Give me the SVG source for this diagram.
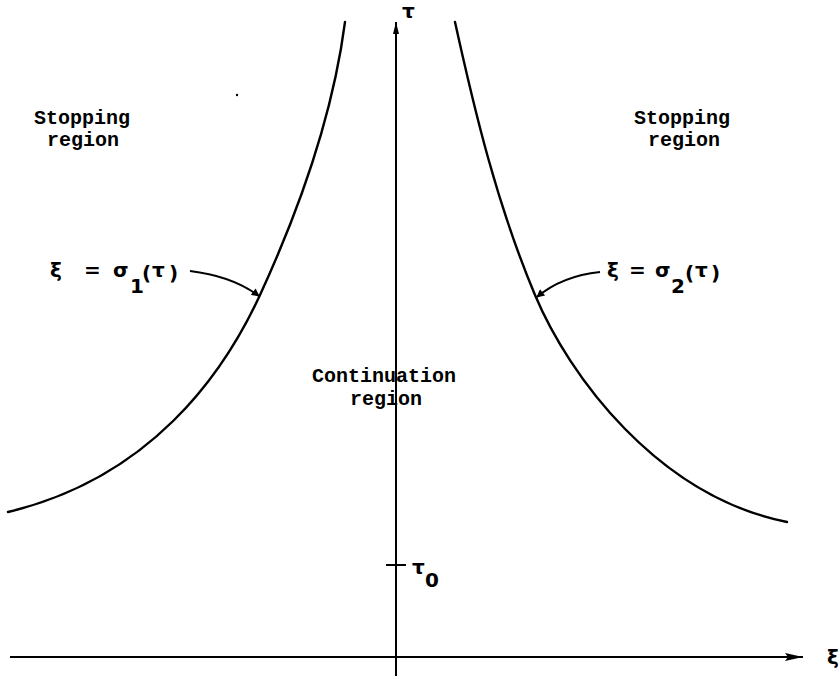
<svg xmlns="http://www.w3.org/2000/svg" width="840" height="677" viewBox="0 0 840 677">
<style>
.ax{stroke:#000;stroke-width:2;fill:none}
.cv{stroke:#000;stroke-width:2.4;fill:none;stroke-linecap:round}
.lead{stroke:#000;stroke-width:2;fill:none}
.tw{font-family:"Liberation Mono","DejaVu Sans Mono",monospace;font-size:20px;font-weight:bold;fill:#000}
.eq{font-family:"DejaVu Sans","Liberation Sans",sans-serif;font-size:20px;font-weight:bold;fill:#000}
</style>
<defs>
<marker id="ah" viewBox="0 0 10 10" refX="9" refY="5" markerWidth="10" markerHeight="8" markerUnits="userSpaceOnUse" orient="auto">
<path d="M0,0 L10,5 L0,10 Z" fill="#000"/>
</marker>
<marker id="axh" viewBox="0 0 18 8" refX="18" refY="4" markerWidth="18" markerHeight="8" markerUnits="userSpaceOnUse" orient="auto">
<path d="M0,0 L18,4 L0,8 L3,4 Z" fill="#000"/>
</marker>
<marker id="ah2" viewBox="0 0 12 6" refX="12" refY="3" markerWidth="12" markerHeight="6" markerUnits="userSpaceOnUse" orient="auto">
<path d="M0,0 L12,3 L0,6 Z" fill="#000"/>
</marker>
</defs>
<rect width="840" height="677" fill="#fff"/>
<g id="axes">
<line class="ax" x1="10" y1="657" x2="803" y2="657" marker-end="url(#axh)"/>
<line class="ax" x1="396" y1="676" x2="396" y2="22" marker-end="url(#ah2)"/>
<line class="ax" x1="386" y1="565" x2="406" y2="565"/>
</g>
<g id="curves">
<path id="sigma1" class="cv" d="M345,22 C333.3,112 301.4,205 260,295 C223,375 150,478 8,512"/>
<path id="sigma2" class="cv" d="M455,22 C474.8,112 497.2,205 535,295 C568.6,375 657,496 787,522"/>
</g>
<g id="connectors">
<path class="lead" d="M190,271 Q232,276 259,296" marker-end="url(#ah)"/>
<path class="lead" d="M600,272 Q562,276 537,297" marker-end="url(#ah)"/>
</g>
<g id="stop-left">
<text class="tw" x="34" y="124">Stopping</text>
<text class="tw" x="47" y="146">region</text>
</g>
<g id="stop-right">
<text class="tw" x="634" y="124">Stopping</text>
<text class="tw" x="648" y="146">region</text>
</g>
<g id="continuation">
<text class="tw" x="312" y="382">Continuation</text>
<text class="tw" x="350" y="405">region</text>
</g>
<g id="label-sigma1">
<text class="eq" x="50" y="277">ξ</text>
<text class="eq" x="84" y="277">=</text>
<text class="eq" x="113" y="277">σ</text>
<text class="eq" x="130" y="293" font-size="17">1</text>
<text class="eq" x="142" y="280" font-size="24">(</text>
<text class="eq" x="152" y="277">τ</text>
<text class="eq" x="169" y="280" font-size="24">)</text>
</g>
<g id="label-sigma2">
<text class="eq" x="607" y="277">ξ</text>
<text class="eq" x="629" y="277">=</text>
<text class="eq" x="655" y="277">σ</text>
<text class="eq" x="671" y="293" font-size="17">2</text>
<text class="eq" x="685" y="280" font-size="24">(</text>
<text class="eq" x="695" y="277">τ</text>
<text class="eq" x="711" y="280" font-size="24">)</text>
</g>
<g id="axis-labels">
<text class="eq" x="402" y="18" font-size="16">τ</text>
<text class="eq" x="412" y="574" font-size="17">τ</text>
<text class="eq" x="425" y="587" font-size="20">0</text>
<text class="eq" x="827" y="664" font-size="22">ξ</text>
</g>
<circle cx="237" cy="95" r="1.2" fill="#000"/>
</svg>
